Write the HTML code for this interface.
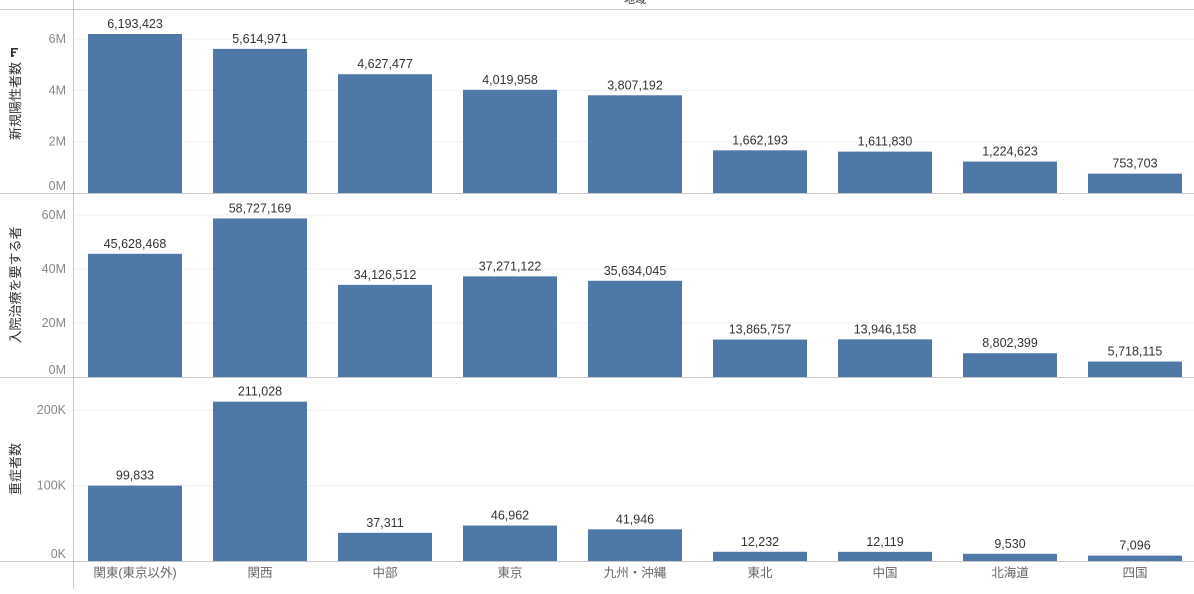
<!DOCTYPE html>
<html><head><meta charset="utf-8"><style>
body{margin:0;background:#fff;font-family:"Liberation Sans","Noto Sans CJK JP",sans-serif;}
svg text{font-family:"Liberation Sans","Noto Sans CJK JP",sans-serif;}
</style></head><body>
<svg id="c" width="1194" height="589">
<text x="635" y="3" font-size="11" fill="#333" text-anchor="middle">地域</text>
<g fill="#333">
<rect x="11" y="48" width="1.8" height="9"/><rect x="12" y="48" width="6" height="1.6"/><rect x="12" y="51.5" width="4" height="1.6"/><rect x="12" y="55" width="2" height="1.6"/>
</g>
</svg>
<script>
const categories=["関東(東京以外)","関西","中部","東京","九州・沖縄","東北","中国","北海道","四国"];
const newPositive=[6193423,5614971,4627477,4019958,3807192,1662193,1611830,1224623,753703];
const hospital=[45628468,58727169,34126512,37271122,35634045,13865757,13946158,8802399,5718115];
const severe=[99833,211028,37311,46962,41946,12232,12119,9530,7096];
const titles=["新規陽性者数","入院治療を要する者","重症者数"];
const ticks1=[0,2e6,4e6,6e6], ticks2=[0,2e7,4e7,6e7], ticks3=[0,1e5,2e5];
const tickLbl1=["0M","2M","4M","6M"], tickLbl2=["0M","20M","40M","60M"], tickLbl3=["0K","100K","200K"];
const svg=document.getElementById('c');const NS='http://www.w3.org/2000/svg';
function mk(t,a,txt){const e=document.createElementNS(NS,t);for(const k in a)e.setAttribute(k,a[k]);if(txt!==undefined)e.textContent=txt;svg.appendChild(e);return e;}
const panels=[
 {vals:newPositive,ticks:ticks1,lbl:tickLbl1,base:193,scale:(193-39)/6e6},
 {vals:hospital,ticks:ticks2,lbl:tickLbl2,base:377,scale:(377-215)/6e7},
 {vals:severe,ticks:ticks3,lbl:tickLbl3,base:561,scale:(561-410)/2e5}];
const xC=i=>135+i*125;
panels.forEach((p,pi)=>{
 const y=v=>p.base-v*p.scale;
 p.ticks.forEach((t,ti)=>{
  if(t>0){const g=mk('line',{x1:74,x2:1194,y1:y(t),y2:y(t),stroke:'#efefef'});
  
  }
  const l=mk('text',{x:66,y:y(t)+(t===0?-3:4),'font-size':12.5,fill:'#888','text-anchor':'end'},p.lbl[ti]);
  
  
 });
 p.vals.forEach((v,i)=>{
  const r=mk('rect',{x:xC(i)-47,y:y(v),width:94,height:v*p.scale,fill:'#4e79a7'});
  
  
  const t=mk('text',{x:xC(i),y:y(v)-6,'font-size':12.5,fill:'#333','text-anchor':'middle'},v.toLocaleString('en-US'));
  
  
 });
 const top=pi===0?9:panels[pi-1].base;
 const mid=(top+p.base)/2;
 const tt=mk('text',{x:0,y:0,'font-size':13,fill:'#333','text-anchor':'middle',transform:`translate(20,${mid}) rotate(-90)`},titles[pi]);
 
 
 const b=mk('line',{x1:0,x2:1194,y1:p.base+0.5,y2:p.base+0.5,stroke:'#c8c8c8'});
 
 
});
categories.forEach((c,i)=>{
 const t=mk('text',{x:xC(i),y:577,'font-size':12.5,fill:'#666','text-anchor':'middle'},c);
 
 
});
const h=mk('line',{x1:0,x2:1194,y1:9.5,y2:9.5,stroke:'#c8c8c8'});


const v=mk('line',{x1:73.5,x2:73.5,y1:0,y2:589,stroke:'#c8c8c8'});


</script>
</body></html>
